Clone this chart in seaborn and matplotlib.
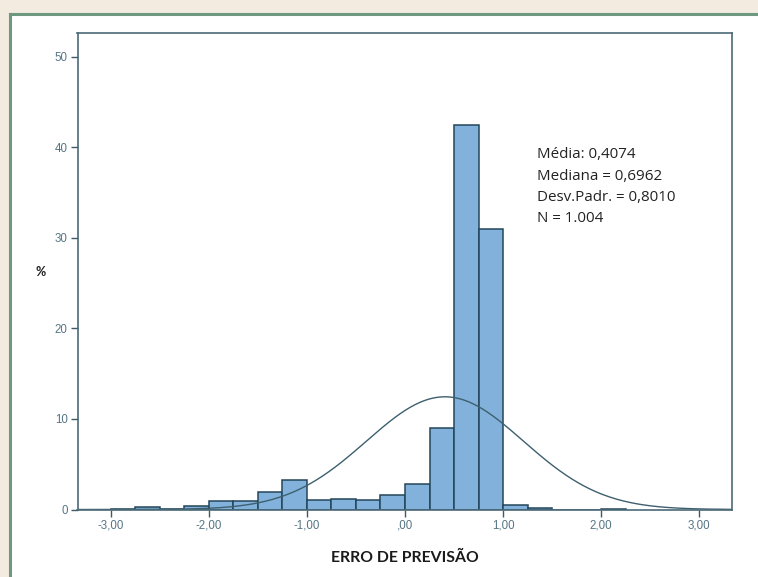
import numpy as np
import pandas as pd
import matplotlib
matplotlib.use("Agg")
import matplotlib.pyplot as plt
import seaborn as sns

# Histogram of forecast errors: bin edges (width 0.25) and percentage per bin
bin_left = [-3.00, -2.75, -2.50, -2.25, -2.00, -1.75, -1.50, -1.25, -1.00,
            -0.75, -0.50, -0.25, 0.00, 0.25, 0.50, 0.75, 1.00, 1.25, 1.50,
            1.75, 2.00]
percent = [0.1, 0.3, 0.1, 0.4, 0.9, 0.9, 1.9, 3.3, 1.0,
           1.2, 1.0, 1.6, 2.8, 9.0, 42.5, 31.0, 0.5, 0.2, 0.0,
           0.0, 0.1]
bin_width = 0.25

# Summary statistics shown in the annotation
media = 0.4074
mediana = 0.6962
desv_padr = 0.8010
n_obs = 1004

x_ticks = [-3, -2, -1, 0, 1, 2, 3]
x_tick_labels = ["-3,00", "-2,00", "-1,00", ",00", "1,00", "2,00", "3,00"]
y_ticks = [0, 10, 20, 30, 40, 50]

df = pd.DataFrame({"centro": np.array(bin_left) + bin_width / 2, "pct": percent})

sns.set_style("white")
plt.rcParams["font.family"] = ["Open Sans", "DejaVu Sans"]

fig = plt.figure(figsize=(7.58, 5.77), dpi=100)
fig.patch.set_facecolor("#F3EBDF")

# white panel with green rule on top and left
panel = fig.add_axes([10 / 758, 0, 1 - 10 / 758, 1 - 14 / 577])
panel.set_facecolor("white")
panel.set_xticks([])
panel.set_yticks([])
for side in ["right", "bottom"]:
    panel.spines[side].set_visible(False)
for side in ["top", "left"]:
    panel.spines[side].set_color("#6F9880")
    panel.spines[side].set_linewidth(2.2)

ax = fig.add_axes([77.5 / 758, 1 - 509.5 / 577,
                   (731.5 - 77.5) / 758, (509.5 - 32.5) / 577])
ax.set_facecolor("white")

sns.histplot(data=df, x="centro", weights="pct", binwidth=bin_width,
             binrange=(bin_left[0], bin_left[-1] + bin_width), ax=ax,
             color="#82B2DC", edgecolor="#24465A", linewidth=1.1, alpha=1.0)

# normal curve scaled to percent per bin
xs = np.linspace(-3.34, 3.33, 400)
dens = 100 * bin_width / (desv_padr * np.sqrt(2 * np.pi)) * \
    np.exp(-0.5 * ((xs - media) / desv_padr) ** 2)
sns.lineplot(x=xs, y=dens, ax=ax, color="#3E5F6E", linewidth=1.0)

ax.set_xlim(-3.34, 3.33)
ax.set_ylim(0, 52.7)
ax.set_xticks(x_ticks)
ax.set_xticklabels(x_tick_labels)
ax.set_yticks(y_ticks)
ax.tick_params(axis="both", direction="out", length=5, width=1.0,
               color="#3E5A66", labelcolor="#557585", labelsize=8.3, pad=2,
               bottom=True, left=True)
for lbl in ax.get_xticklabels() + ax.get_yticklabels():
    lbl.set_family(["Liberation Sans", "DejaVu Sans"])
for side in ax.spines.values():
    side.set_color("#4B6A78")
    side.set_linewidth(1.2)

ax.set_xlabel("")
ax.set_ylabel("")
fig.text(404.5 / 758, 1 - 558 / 577, "ERRO DE PREVISÃO", ha="center",
         va="center", fontsize=11.3, fontweight="bold", color="#1A1A1A",
         family=["Lato", "DejaVu Sans"])
fig.text(41 / 758, 1 - 272 / 577, "%", ha="center", va="center",
         fontsize=9, fontweight="bold", color="#1E1E1E",
         family=["Lato", "DejaVu Sans"])

fmt = lambda v: f"{v:.4f}".replace(".", ",")
linhas = [f"Média: {fmt(media)}",
          f"Mediana = {fmt(mediana)}",
          f"Desv.Padr. = {fmt(desv_padr)}",
          f"N = {n_obs / 1000:.3f}"]
for i, t in enumerate(linhas):
    fig.text(537 / 758, 1 - (155 + i * 21.2) / 577, t, ha="left", va="center",
             fontsize=10.9, color="#222222")

fig.savefig("out.png", dpi=100, facecolor=fig.get_facecolor())
